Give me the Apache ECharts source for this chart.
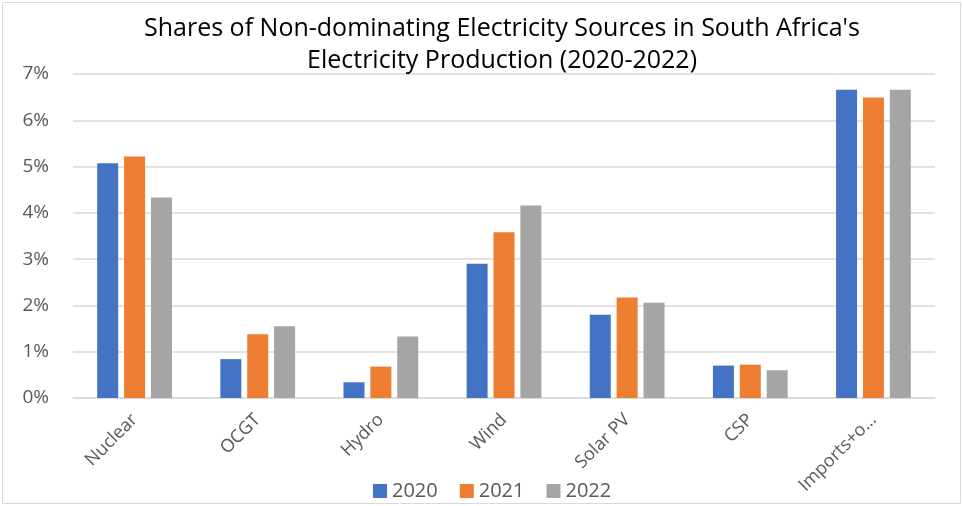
<!DOCTYPE html>
<html>
<head>
<meta charset="utf-8">
<script src="https://cdn.jsdelivr.net/npm/echarts@6/dist/echarts.min.js"></script>
<style>
html,body{margin:0;padding:0;background:#fff;}
#chart{width:963px;height:506px;}
</style>
</head>
<body>
<div id="chart"></div>
<script>
const categories = ['Nuclear', 'OCGT', 'Hydro', 'Wind', 'Solar PV', 'CSP', 'Imports+o…'];
const seriesNames = ['2020', '2021', '2022'];
const values2020 = [5.07, 0.84, 0.34, 2.90, 1.80, 0.70, 6.66];
const values2021 = [5.22, 1.38, 0.68, 3.58, 2.17, 0.72, 6.49];
const values2022 = [4.33, 1.55, 1.33, 4.16, 2.06, 0.60, 6.66];
const yTicks = [0, 1, 2, 3, 4, 5, 6, 7];
const colors = ['#4472C4', '#ED7D31', '#A5A5A5'];

const chart = echarts.init(document.getElementById('chart'));
const allValues = [values2020, values2021, values2022];
const labelFont = '"Open Sans", "Noto Sans", sans-serif';
chart.setOption({
  animation: false,
  title: {
    text: "Shares of Non-dominating Electricity Sources in South Africa's\nElectricity Production (2020-2022)",
    left: 497,
    textAlign: 'center',
    top: 8,
    textStyle: {
      fontFamily: '"Liberation Sans Narrow", "Open Sans", sans-serif',
      fontSize: 25,
      fontWeight: 'normal',
      color: '#000',
      lineHeight: 32
    }
  },
  graphic: [{
    type: 'rect',
    shape: {x: 2.5, y: 2.5, width: 958, height: 501},
    style: {fill: 'none', stroke: '#d9d9d9', lineWidth: 1},
    silent: true
  }],
  legend: {
    data: seriesNames,
    top: 476,
    left: 368,
    itemWidth: 14,
    itemHeight: 14,
    itemGap: 22,
    icon: 'rect',
    textStyle: {fontFamily: labelFont, fontSize: 20, color: '#595959'}
  },
  grid: {left: 73, right: 28, top: 74, bottom: 108, containLabel: false},
  xAxis: {
    type: 'category',
    data: categories,
    axisLine: {lineStyle: {color: '#d9d9d9', width: 1.5}},
    axisTick: {show: false},
    axisLabel: {
      rotate: 45,
      margin: 19,
      fontFamily: labelFont,
      fontSize: 18,
      color: '#595959'
    }
  },
  yAxis: {
    type: 'value',
    min: yTicks[0],
    max: yTicks[yTicks.length - 1],
    interval: 1,
    axisLine: {show: false},
    axisTick: {show: false},
    splitLine: {lineStyle: {color: '#d9d9d9', width: 1.5}},
    axisLabel: {
      formatter: v => v + '%',
      margin: 24,
      fontFamily: labelFont,
      fontSize: 19,
      color: '#595959'
    }
  },
  series: seriesNames.map((name, i) => ({
    name: name,
    type: 'bar',
    data: allValues[i],
    barWidth: 21,
    barGap: '28%',
    itemStyle: {color: colors[i]}
  }))
});
</script>
</body>
</html>
